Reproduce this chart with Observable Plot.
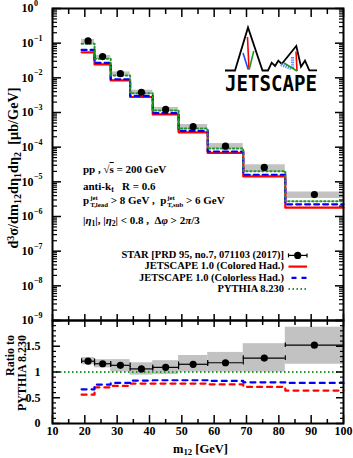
<!DOCTYPE html>
<html><head><meta charset="utf-8">
<script src="https://cdn.jsdelivr.net/npm/d3@7"></script>
<script src="https://cdn.jsdelivr.net/npm/@observablehq/plot@0.6"></script>
<style>
html,body{margin:0;padding:0;background:#fff;}
#chart{position:relative;width:353px;height:458px;overflow:hidden;font-family:"Liberation Serif","Times New Roman",serif;font-weight:bold;color:#000;}
#chart svg.plot{position:absolute;left:0;overflow:visible;}
.t{position:absolute;white-space:nowrap;line-height:1;}
.sub{font-size:0.7em;position:relative;top:0.3em;}
.sup{font-size:0.7em;position:relative;top:-0.45em;}
.ss{display:inline-block;vertical-align:-0.42em;line-height:1;font-size:0.62em;text-align:left;margin-left:1px;}
.ss span{display:block;}
.it{font-style:italic;}
</style></head>
<body><div id="chart"></div>
<script>
// ---------------- data ----------------
const binLo = [19, 23, 28, 34, 41, 49, 58, 69, 82];
const binHi = [23, 28, 34, 41, 49, 58, 69, 82, 100];
const starM = [21, 25.5, 31, 37.5, 45, 53.5, 63.5, 75.5, 91];
// d3sigma/dm12 deta1 deta2 [mub/GeV]
const starXsec  = [0.116, 0.041, 0.0132, 0.00382, 0.00123, 3.89e-4, 1.07e-4, 2.6e-5, 4.3e-6];
const starSysLo = [0.093, 0.034, 0.0112, 0.0034, 0.00106, 3.3e-4, 9.0e-5, 2.0e-5, 3.3e-6];
const starSysHi = [0.128, 0.0445, 0.0148, 0.0044, 0.0014, 4.5e-4, 1.27e-4, 3.1e-5, 5.1e-6];
const coloredHad   = [0.0545, 0.0244, 0.0084, 0.0028, 0.00088, 2.68e-4, 6.8e-5, 1.43e-5, 1.8e-6];
const colorlessHad = [0.064, 0.027, 0.0091, 0.00303, 0.00096, 2.95e-4, 7.5e-5, 1.6e-5, 2.24e-6];
const pythia       = [0.096, 0.0355, 0.0116, 0.00362, 0.00114, 3.45e-4, 9.1e-5, 2.03e-5, 2.75e-6];
// ratio to PYTHIA 8.230
const ratioStar      = [1.21, 1.16, 1.13, 1.06, 1.09, 1.15, 1.18, 1.27, 1.52];
const ratioStarSysLo = [1.14, 1.08, 1.00, 0.94, 0.95, 1.00, 1.00, 1.00, 1.15];
const ratioStarSysHi = [1.28, 1.24, 1.24, 1.18, 1.22, 1.32, 1.38, 1.55, 1.87];
const ratioColored   = [0.56, 0.70, 0.73, 0.775, 0.775, 0.776, 0.76, 0.71, 0.64];
const ratioColorless = [0.663, 0.755, 0.787, 0.833, 0.84, 0.84, 0.826, 0.80, 0.787];
const ratioPythia    = [1];
// ticks
const xMajor = [10, 20, 30, 40, 50, 60, 70, 80, 90, 100];
const xMinor = [15, 25, 35, 45, 55, 65, 75, 85, 95];
const xTickLabels = ["10", "20", "30", "40", "50", "60", "70", "80", "90", "100"];
const yExponents = [-9, -8, -7, -6, -5, -4, -3, -2, -1, 0];
const yExpLabels = ["\u22129", "\u22128", "\u22127", "\u22126", "\u22125", "\u22124", "\u22123", "\u22122", "\u22121", "0"];
const rMajor = [0, 0.5, 1, 1.5, 2];
const rLabels = ["0", "0.5", "1", "1.5", ""];
const rMinor = [0.1,0.2,0.3,0.4,0.6,0.7,0.8,0.9,1.1,1.2,1.3,1.4,1.6,1.7,1.8,1.9];
const legendLabels = ["STAR [PRD 95, no.7, 071103 (2017)]", "JETSCAPE 1.0 (Colored Had.)", "JETSCAPE 1.0 (Colorless Had.)", "PYTHIA 8.230"];

// ---------------- helpers ----------------
const RED = "#ff0000", BLUE = "#0000ff", GREEN = "#22962a", GRAY = "#c2c2c2";
const bins = binLo.map((lo, i) => ({
  lo, hi: binHi[i], m: starM[i], star: starXsec[i], sysLo: starSysLo[i], sysHi: starSysHi[i],
  r: ratioStar[i], rLo: ratioStarSysLo[i], rHi: ratioStarSysHi[i]
}));
const steps = vals => vals.flatMap((v, i) => [{x: binLo[i], y: v}, {x: binHi[i], y: v}]);
const yDecades = yExponents.map(e => Math.pow(10, e));
const yMinor = yExponents.slice(0, -1).flatMap(e => [2,3,4,5,6,7,8,9].map(k => k * Math.pow(10, e)));
const F = {fontFamily: "Liberation Serif", fontWeight: "bold"};
const W = 353, mL = 52, mR = 10;

// ---------------- top panel ----------------
const topPlot = Plot.plot({
  width: W, height: 320, marginLeft: mL, marginRight: mR, marginTop: 8, marginBottom: 0,
  x: {domain: [10, 100]},
  y: {type: "log", domain: [1e-9, 1]},
  style: {overflow: "visible", background: "transparent"},
  marks: [
    Plot.rect(bins, {x1: "lo", x2: "hi", y1: "sysLo", y2: "sysHi", fill: GRAY}),
    Plot.line(steps(coloredHad), {x: "x", y: "y", stroke: RED, strokeWidth: 2.2}),
    Plot.line(steps(colorlessHad), {x: "x", y: "y", stroke: BLUE, strokeWidth: 2.2, strokeDasharray: "5,4"}),
    Plot.line(steps(pythia), {x: "x", y: "y", stroke: GREEN, strokeWidth: 2, strokeDasharray: "1.5,2.5"}),
    Plot.dot(bins, {x: "m", y: "star", r: 3.6, fill: "#000"}),
    Plot.axisX(xMajor, {anchor: "top", tickSize: -8, fill: "none", strokeWidth: 1.5}),
    Plot.axisX(xMinor, {anchor: "top", tickSize: -5, fill: "none", strokeWidth: 1.5}),
    Plot.axisX(xMajor, {anchor: "bottom", tickSize: -6, fill: "none", strokeWidth: 1.5}),
    Plot.axisX(xMinor, {anchor: "bottom", tickSize: -4, fill: "none", strokeWidth: 1.5}),
    Plot.axisY(yDecades, {anchor: "left", tickSize: -9, fill: "none", strokeWidth: 1.5}),
    Plot.axisY(yMinor, {anchor: "left", tickSize: -5, fill: "none", strokeWidth: 1.2}),
    Plot.axisY(yDecades, {anchor: "right", tickSize: -9, fill: "none", strokeWidth: 1.5}),
    Plot.axisY(yMinor, {anchor: "right", tickSize: -5, fill: "none", strokeWidth: 1.2}),
    Plot.text(yDecades, {y: d => d, text: () => "10", frameAnchor: "left", textAnchor: "end", dx: -19, fontSize: 12, ...F}),
    Plot.text(yDecades, {y: d => d, text: (d, i) => yExpLabels[i], frameAnchor: "left", textAnchor: "start", dx: -18.5, dy: -5, fontSize: 8, ...F}),
    Plot.frame({strokeWidth: 2})
  ]
});
topPlot.style.top = "0px";

// ---------------- ratio panel ----------------
const ratioPlot = Plot.plot({
  width: W, height: 138, marginLeft: mL, marginRight: mR, marginTop: 0, marginBottom: 35,
  x: {domain: [10, 100]},
  y: {domain: [0, 2]},
  style: {overflow: "visible", background: "transparent"},
  marks: [
    Plot.rect(bins, {x1: "lo", x2: "hi", y1: "rLo", y2: "rHi", fill: GRAY}),
    Plot.ruleY(ratioPythia, {stroke: GREEN, strokeWidth: 2, strokeDasharray: "1.5,2.5"}),
    Plot.line(steps(ratioColored), {x: "x", y: "y", stroke: RED, strokeWidth: 2.2, strokeDasharray: "5,5"}),
    Plot.line(steps(ratioColorless), {x: "x", y: "y", stroke: BLUE, strokeWidth: 2.2, strokeDasharray: "5,5"}),
    Plot.ruleY(bins, {y: "r", x1: "lo", x2: "hi", stroke: "#000", strokeWidth: 1.2}),
    Plot.ruleX(bins, {x: "lo", y1: d => d.r - 0.045, y2: d => d.r + 0.045, stroke: "#000", strokeWidth: 1.2}),
    Plot.ruleX(bins, {x: "hi", y1: d => d.r - 0.045, y2: d => d.r + 0.045, stroke: "#000", strokeWidth: 1.2}),
    Plot.dot(bins, {x: "m", y: "r", r: 3.6, fill: "#000"}),
    Plot.axisX(xMajor, {anchor: "top", tickSize: -6, fill: "none", strokeWidth: 1.5}),
    Plot.axisX(xMinor, {anchor: "top", tickSize: -4, fill: "none", strokeWidth: 1.5}),
    Plot.axisX(xMajor, {anchor: "bottom", tickSize: -8, fill: "none", strokeWidth: 1.5}),
    Plot.axisX(xMinor, {anchor: "bottom", tickSize: -4, fill: "none", strokeWidth: 1.5}),
    Plot.axisY(rMajor, {anchor: "left", tickSize: -8, fill: "none", strokeWidth: 1.5}),
    Plot.axisY(rMinor, {anchor: "left", tickSize: -4, fill: "none", strokeWidth: 1.2}),
    Plot.axisY(rMajor, {anchor: "right", tickSize: -8, fill: "none", strokeWidth: 1.5}),
    Plot.axisY(rMinor, {anchor: "right", tickSize: -4, fill: "none", strokeWidth: 1.2}),
    Plot.text(rMajor, {y: d => d, text: (d, i) => rLabels[i], frameAnchor: "left", textAnchor: "end", dx: -12, fontSize: 12, ...F}),
    Plot.text(xMajor, {x: d => d, text: (d, i) => xTickLabels[i], frameAnchor: "bottom", dy: 11, fontSize: 12, ...F}),
    Plot.frame({strokeWidth: 2})
  ]
});
ratioPlot.style.top = "320px";

const chart = document.getElementById("chart");
chart.appendChild(topPlot);
chart.appendChild(ratioPlot);

// ---------------- text overlays ----------------
function addText(html, x, baseline, fs, extra = "") {
  const d = document.createElement("div");
  d.className = "t";
  d.innerHTML = html;
  d.style.cssText += `left:${x}px;top:${baseline - 0.8375 * fs}px;font-size:${fs}px;${extra}`;
  chart.appendChild(d);
  return d;
}
function addTextRight(html, xRight, baseline, fs) {
  const d = addText(html, 0, baseline, fs);
  d.style.left = "auto";
  d.style.right = (W - xRight) + "px";
  return d;
}
function addRotated(html, cx, cy, fs, extra = "") {
  const d = document.createElement("div");
  d.className = "t";
  d.innerHTML = html;
  d.style.cssText += `left:${cx}px;top:${cy}px;font-size:${fs}px;transform:translate(-50%,-50%) rotate(-90deg);${extra}`;
  chart.appendChild(d);
  return d;
}

// annotation block
addText('pp , &radic;<span style="text-decoration:overline">s</span> = 200 GeV', 83, 173.5, 11);
addText('anti-k<span class="sub">t</span> &nbsp; R = 0.6', 83, 190, 11);
addText('p<span class="ss"><span>jet</span><span>T,lead</span></span> &gt; 8 GeV , &nbsp;p<span class="ss"><span>jet</span><span>T,sub</span></span> &gt; 6 GeV', 83, 204.5, 11);
addText('|<span class="it">&eta;</span><span class="sub">1</span>|, |<span class="it">&eta;</span><span class="sub">2</span>| &lt; 0.8 , &nbsp;&Delta;<span class="it">&phi;</span> &gt; 2<span class="it">&pi;</span>/3', 83, 224, 11);

// legend
const legBase = [259, 270.2, 281.4, 292.6];
legendLabels.forEach((s, i) => addTextRight(s, 284, legBase[i], 10.5));

// axis titles
addRotated('d<span class="sup">3</span>&sigma;/dm<span class="sub">12</span>d&eta;<span class="sub">1</span>d&eta;<span class="sub">2</span> &nbsp;[&mu;b/GeV]', 13, 168, 14.3);
addRotated('<div style="text-align:right;line-height:12px">Ratio to<br>PYTHIA 8.230</div>', 16, 373, 12);
addText('m<span class="sub">12</span> [GeV]', 173, 453, 12.5);

// legend swatches + logo (decoration)
const deco = `
<svg width="353" height="458" style="position:absolute;left:0;top:0;pointer-events:none" xmlns="http://www.w3.org/2000/svg">
  <g stroke-width="1.2" stroke="#000">
    <line x1="288.5" x2="307" y1="255.4" y2="255.4"/>
    <line x1="288.5" x2="288.5" y1="253.4" y2="257.4"/>
    <line x1="307" x2="307" y1="253.4" y2="257.4"/>
  </g>
  <circle cx="297.7" cy="255.4" r="3.6" fill="#000"/>
  <line x1="288.5" x2="307" y1="266.6" y2="266.6" stroke="${RED}" stroke-width="2.2"/>
  <line x1="288.5" x2="307" y1="277.8" y2="277.8" stroke="${BLUE}" stroke-width="2.2" stroke-dasharray="5,5" stroke-dashoffset="-3"/>
  <line x1="288.5" x2="307" y1="289" y2="289" stroke="${GREEN}" stroke-width="2" stroke-dasharray="1.5,2.5"/>
  <g fill="none" stroke-linejoin="miter">
    <path d="M225,70.5 L235,70.5 L248,27.5 L262.5,70.5 L268,70.5 L271.7,62.7 L275,66 L278.3,60.7 L281.7,64 L296.3,46 L301,66.7 L305,60.7 L309.3,70.3 L317,70.3" stroke="#000" stroke-width="1.8"/>
    <path d="M281,64.5 L291,68.5" stroke="#5a8cff" stroke-width="3.2" stroke-dasharray="1.4,1"/>
    <path d="M292.5,57 L292.5,68" stroke="#5a8cff" stroke-width="3.2" stroke-dasharray="1.4,1"/>
    <path d="M247.5,37 L249,69.5" stroke="${RED}" stroke-width="1.6"/>
    <path d="M243,53 L248.2,69.5" stroke="#1f4cff" stroke-width="1.6"/>
    <path d="M253.8,51 L249.2,69.5" stroke="#1e9a1e" stroke-width="1.6"/>
    <path d="M296,51.5 L297,71" stroke="${RED}" stroke-width="1.6"/>
    <path d="M284,63 L297,71" stroke="#1e9a1e" stroke-width="1.6"/>
  </g>
  <text x="225" y="90.7" textLength="92" lengthAdjust="spacingAndGlyphs" font-family="DejaVu Sans Mono" font-weight="bold" font-size="21" fill="#000">JETSCAPE</text>
</svg>`;
chart.insertAdjacentHTML("beforeend", deco);
</script>
</body></html>
